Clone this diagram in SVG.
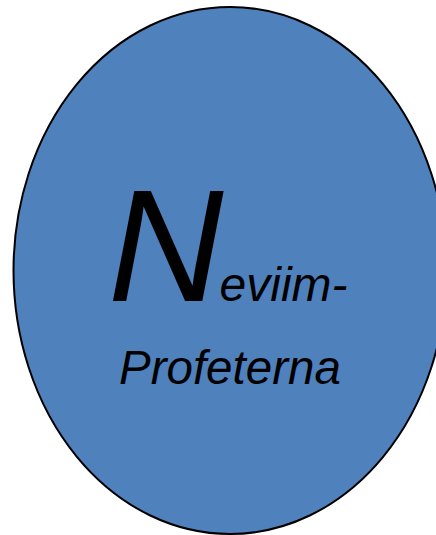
<svg xmlns="http://www.w3.org/2000/svg" width="436" height="535" viewBox="0 0 436 535">
<style>
.shape{fill:#4F81BD;stroke:#000;stroke-width:2}
.t{font-family:"Liberation Sans",Arial,sans-serif;font-style:italic;fill:#000}
</style>
<rect width="436" height="535" fill="#fff"/>
<g id="neviim">
<ellipse class="shape" cx="230" cy="270.5" rx="216.5" ry="263.5"/>
<text class="t" x="108" y="301"><tspan font-size="160">N</tspan><tspan font-size="48" dx="-4">eviim-</tspan></text>
<text class="t" x="119" y="384" font-size="47.5">Profeterna</text>
</g>
</svg>
